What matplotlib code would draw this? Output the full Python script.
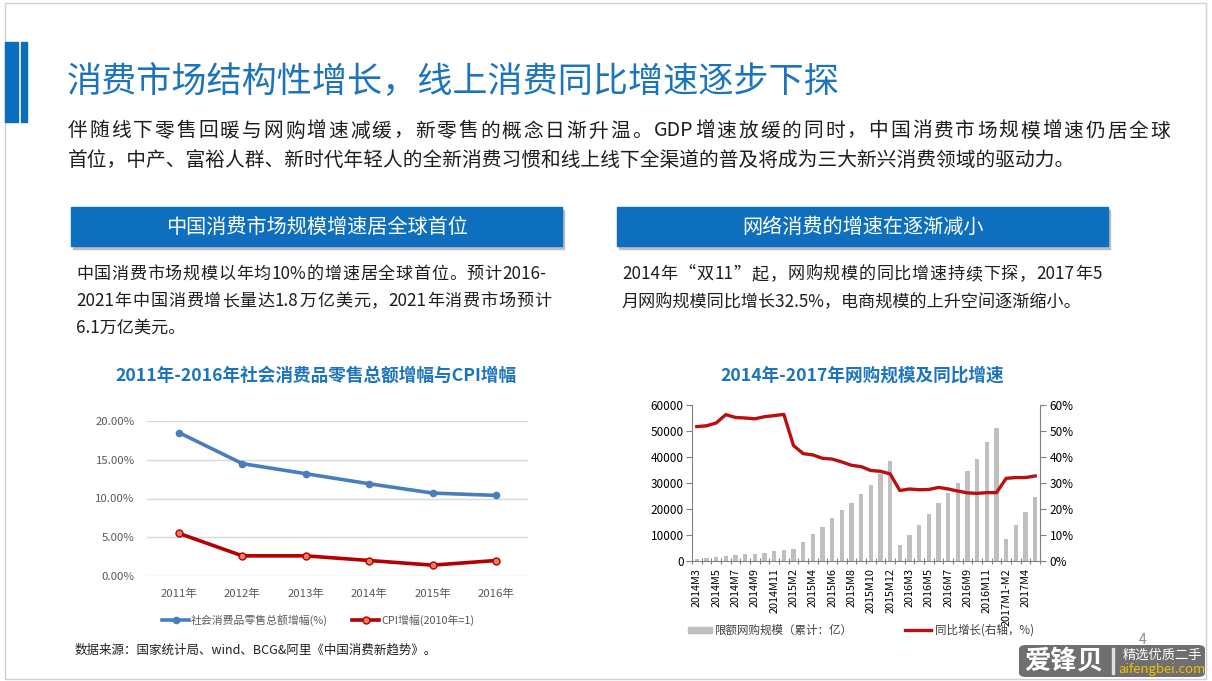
"""Slide: consumer market growth vs. online shopping growth (two charts)."""

import re

import matplotlib
matplotlib.use("Agg")
import matplotlib.pyplot as plt
from matplotlib.lines import Line2D
from matplotlib.patches import Rectangle, FancyBboxPatch
from matplotlib.ticker import FuncFormatter

plt.rcParams["font.family"] = ["Noto Sans CJK SC", "DejaVu Sans"]

W, H = 1212, 681

# ---- left chart data ----
years = ["2011年", "2012年", "2013年", "2014年", "2015年", "2016年"]
retail_growth = [18.5, 14.5, 13.2, 11.9, 10.7, 10.4]
cpi_growth = [5.5, 2.6, 2.6, 2.0, 1.4, 2.0]

# ---- right chart data ----
months = [
    "2014M3", "2014M4", "2014M5", "2014M6", "2014M7", "2014M8", "2014M9", "2014M10",
    "2014M11", "2014M12", "2015M2", "2015M3", "2015M4", "2015M5", "2015M6", "2015M7",
    "2015M8", "2015M9", "2015M10", "2015M11", "2015M12", "2016M2", "2016M3", "2016M4",
    "2016M5", "2016M6", "2016M7", "2016M8", "2016M9", "2016M10", "2016M11", "2016M12",
    "2017M1-M2", "2017M3", "2017M4", "2017M5",
]
online_scale = [
    770, 1000, 1400, 1800, 2200, 2600, 2800, 3200, 3700, 4200, 4600, 7400,
    10400, 13200, 16400, 19500, 22200, 25600, 29200, 33500, 38500, 6200, 10000, 13800,
    17900, 22200, 26000, 30100, 34600, 39100, 45900, 51300, 8300, 13800, 19000, 24500,
]
yoy_growth = [
    51.7, 52.0, 53.1, 56.3, 55.2, 55.0, 54.7, 55.5, 55.9, 56.4, 44.4, 41.3,
    40.8, 39.5, 39.2, 38.1, 36.8, 36.3, 34.8, 34.5, 33.5, 27.1, 27.7, 27.4,
    27.5, 28.3, 27.7, 26.9, 26.2, 26.0, 26.3, 26.3, 31.8, 32.1, 32.1, 32.7,
]

BLUE = "#0E6FBE"
TITLE_BLUE = "#1C75BC"
TEXT = "#1E1E1E"


def fx(x):
    return x / W


def fy(y):
    return 1 - y / H


def axes_px(fig, left, top, right, bottom):
    return fig.add_axes([fx(left), fy(bottom), (right - left) / W, (bottom - top) / H])


def justified_text(fig, x0, x1, y, s, **kw):
    # PowerPoint-style justified line: spread the gaps between tokens
    r = fig.canvas.get_renderer()
    tokens = re.findall(r"[A-Za-z0-9.%\-]+|.", s)
    widths = []
    for tok in tokens:
        t = fig.text(0, 0, tok, **kw)
        widths.append(t.get_window_extent(r).width)
        t.remove()
    extra = (x1 - x0 - sum(widths)) / (len(tokens) - 1)
    x = x0
    for tok, w in zip(tokens, widths):
        fig.text(fx(x), fy(y), tok, va="center", **kw)
        x += w + extra


def header_box(fig, left, right, text):
    fig.patches.append(Rectangle((fx(left + 2), fy(249)), (right - left) / W, 39 / H,
                                 transform=fig.transFigure, color="#BDBDBD", zorder=1))
    fig.patches.append(Rectangle((fx(left), fy(246)), (right - left) / W, 39 / H,
                                 transform=fig.transFigure, color=BLUE, zorder=2))
    fig.text(fx((left + right) / 2), fy(227), text, color="white", fontsize=14.5,
             ha="center", va="center", zorder=3)


def draw_left_chart(fig):
    ax = axes_px(fig, 147.3, 421, 527.7, 576)
    x = range(len(years))
    ax.plot(x, retail_growth, color="#4A7EBB", lw=2.6, marker="o", ms=4.5,
            mfc="#4A7EBB", mec="#4A7EBB", zorder=3)
    ax.plot(x, cpi_growth, color="#B40000", lw=2.6, marker="o", ms=5,
            mfc="#EE7A62", mec="#B40000", mew=1, zorder=3)
    ax.set_xlim(-0.5, len(years) - 0.5)
    ax.set_ylim(0, 20)
    ax.set_yticks([0, 5, 10, 15, 20])
    ax.yaxis.set_major_formatter(FuncFormatter(lambda v, _: f"{v:.2f}%"))
    ax.set_xticks(list(x))
    ax.set_xticklabels(years)
    ax.grid(axis="y", color="#D9D9D9", lw=1)
    ax.set_axisbelow(True)
    for s in ax.spines.values():
        s.set_visible(False)
    ax.tick_params(length=0, labelsize=8.2, labelcolor="#595959")
    ax.tick_params(axis="y", pad=9)
    ax.tick_params(axis="x", pad=9)

    fig.text(fx(316), fy(376), "2011年-2016年社会消费品零售总额增幅与CPI增幅",
             color=TITLE_BLUE, fontsize=12.7, fontweight="bold", ha="center", va="center")

    # legend
    fig.lines.append(Line2D([fx(162), fx(189)], [fy(620)] * 2, transform=fig.transFigure,
                            color="#4A7EBB", lw=2.6))
    fig.lines.append(Line2D([fx(175.5)], [fy(620)], transform=fig.transFigure,
                            color="#4A7EBB", marker="o", ms=4.5, ls="none"))
    fig.text(fx(191), fy(620), "社会消费品零售总额增幅(%)", fontsize=7.8,
             color="#595959", va="center")
    fig.lines.append(Line2D([fx(352), fx(379)], [fy(620)] * 2, transform=fig.transFigure,
                            color="#B40000", lw=2.6))
    fig.lines.append(Line2D([fx(365.5)], [fy(620)], transform=fig.transFigure,
                            ls="none", marker="o", ms=5, mfc="#EE7A62", mec="#B40000"))
    fig.text(fx(381), fy(620), "CPI增幅(2010年=1)", fontsize=7.8,
             color="#595959", va="center")


def draw_right_chart(fig):
    ax = axes_px(fig, 692, 405, 1040, 561)
    x = list(range(len(months)))
    ax.bar(x, online_scale, width=0.42, color="#BFBFBF", zorder=2)
    ax.set_xlim(-0.5, len(months) - 0.5)
    ax.set_ylim(0, 60000)
    ax.set_yticks(range(0, 60001, 10000))
    ax.set_xticks(x[::2])
    ax.set_xticklabels(months[::2], rotation=90, va="top", ha="center")
    ax.set_xticks([i - 0.5 for i in range(len(months) + 1)], minor=True)
    ax.tick_params(axis="x", which="major", length=0, labelsize=7.8, pad=5)
    ax.tick_params(axis="x", which="minor", direction="inout", length=5, width=0.8,
                   color="#808080")
    ax.tick_params(axis="y", direction="out", length=4, width=0.8, color="#808080",
                   labelsize=8.5, pad=2)
    ax.spines["top"].set_visible(False)
    ax.spines["right"].set_visible(False)
    for s in ("left", "bottom"):
        ax.spines[s].set_color("#808080")
        ax.spines[s].set_linewidth(0.8)

    ax2 = ax.twinx()
    ax2.plot(x, yoy_growth, color="#B81010", lw=2.4, zorder=3)
    ax2.set_ylim(0, 60)
    ax2.set_yticks(range(0, 61, 10))
    ax2.yaxis.set_major_formatter(FuncFormatter(lambda v, _: f"{v:.0f}%"))
    ax2.tick_params(axis="y", direction="out", length=4, width=0.8, color="#808080",
                    labelsize=8.5, pad=3)
    for s in ("top", "left", "bottom"):
        ax2.spines[s].set_visible(False)
    ax2.spines["right"].set_color("#808080")
    ax2.spines["right"].set_linewidth(0.8)

    fig.text(fx(862), fy(376), "2014年-2017年网购规模及同比增速",
             color=TITLE_BLUE, fontsize=12.7, fontweight="bold", ha="center", va="center")

    # legend
    fig.patches.append(Rectangle((fx(688), fy(633)), 24 / W, 6 / H,
                                 transform=fig.transFigure, color="#BFBFBF"))
    fig.text(fx(715), fy(630), "限额网购规模（累计：亿）", fontsize=8.3,
             color="#404040", va="center")
    fig.lines.append(Line2D([fx(905), fx(931)], [fy(630)] * 2, transform=fig.transFigure,
                            color="#B81010", lw=2.4))
    fig.text(fx(935), fy(630), "同比增长(右轴，%)", fontsize=8.3,
             color="#404040", va="center")


def draw_slide(fig):
    # slide frame
    fig.patches.append(Rectangle((fx(5), fy(679)), 1201 / W, 676 / H,
                                 transform=fig.transFigure, fill=False,
                                 ec="#CFCFCF", lw=1))
    # title bars
    fig.patches.append(Rectangle((fx(5), fy(122)), 13 / W, 80 / H,
                                 transform=fig.transFigure, color="#0A6EBD"))
    fig.patches.append(Rectangle((fx(21), fy(122)), 6 / W, 80 / H,
                                 transform=fig.transFigure, color="#0A6EBD"))

    fig.text(fx(67), fy(82), "消费市场结构性增长，线上消费同比增速逐步下探",
             color=TITLE_BLUE, fontsize=25.3, ha="left", va="center")
    justified_text(fig, 68, 1170, 131,
                   "伴随线下零售回暖与网购增速减缓，新零售的概念日渐升温。GDP增速放缓的同时，中国消费市场规模增速仍居全球",
                   color=TEXT, fontsize=14.2)
    fig.text(fx(68), fy(160),
             "首位，中产、富裕人群、新时代年轻人的全新消费习惯和线上线下全渠道的普及将成为三大新兴消费领域的驱动力。",
             color=TEXT, fontsize=14.2, va="center")

    header_box(fig, 71, 562, "中国消费市场规模增速居全球首位")
    header_box(fig, 617, 1108, "网络消费的增速在逐渐减小")

    justified_text(fig, 76, 546, 274, "中国消费市场规模以年均10%的增速居全球首位。预计2016-",
                   color=TEXT, fontsize=12.3)
    justified_text(fig, 76, 551, 301, "2021年中国消费增长量达1.8万亿美元，2021年消费市场预计",
                   color=TEXT, fontsize=12.3)
    fig.text(fx(76), fy(328), "6.1万亿美元。", color=TEXT, fontsize=12.3, va="center")
    justified_text(fig, 622, 1102, 274, "2014年“双11”起，网购规模的同比增速持续下探，2017年5",
                   color=TEXT, fontsize=12.3)
    fig.text(fx(622), fy(301), "月网购规模同比增长32.5%，电商规模的上升空间逐渐缩小。",
             color=TEXT, fontsize=12.3, va="center")

    fig.text(fx(75), fy(650), "数据来源：国家统计局、wind、BCG&阿里《中国消费新趋势》。",
             color=TEXT, fontsize=9, va="center")
    fig.text(fx(1143), fy(640), "4", color="#8C8C8C", fontsize=10, ha="center", va="center")

    # watermark
    fig.patches.append(FancyBboxPatch((fx(1019), fy(677)), 186 / W, 32 / H,
                                      boxstyle="round,pad=0,rounding_size=0.006",
                                      transform=fig.transFigure, fc="#5B5B5B",
                                      ec="none", alpha=0.88, zorder=5))
    fig.text(fx(1064), fy(661), "爱锋贝", color="white", fontsize=19, fontweight="bold",
             ha="center", va="center", zorder=6)
    fig.patches.append(Rectangle((fx(1112), fy(674)), 2 / W, 26 / H,
                                 transform=fig.transFigure, color="#E0E0E0", zorder=6))
    fig.text(fx(1162), fy(655), "精选优质二手", color="white", fontsize=9.5,
             ha="center", va="center", zorder=6)
    fig.text(fx(1162), fy(669), "aifengbei.com", color="#F2C200", fontsize=9.5,
             ha="center", va="center", zorder=6)


def main():
    fig = plt.figure(figsize=(W / 100, H / 100), dpi=100)
    fig.patch.set_facecolor("white")
    draw_slide(fig)
    draw_left_chart(fig)
    draw_right_chart(fig)
    fig.savefig("out.png", dpi=100, facecolor="white")
    plt.close(fig)


if __name__ == "__main__":
    main()
